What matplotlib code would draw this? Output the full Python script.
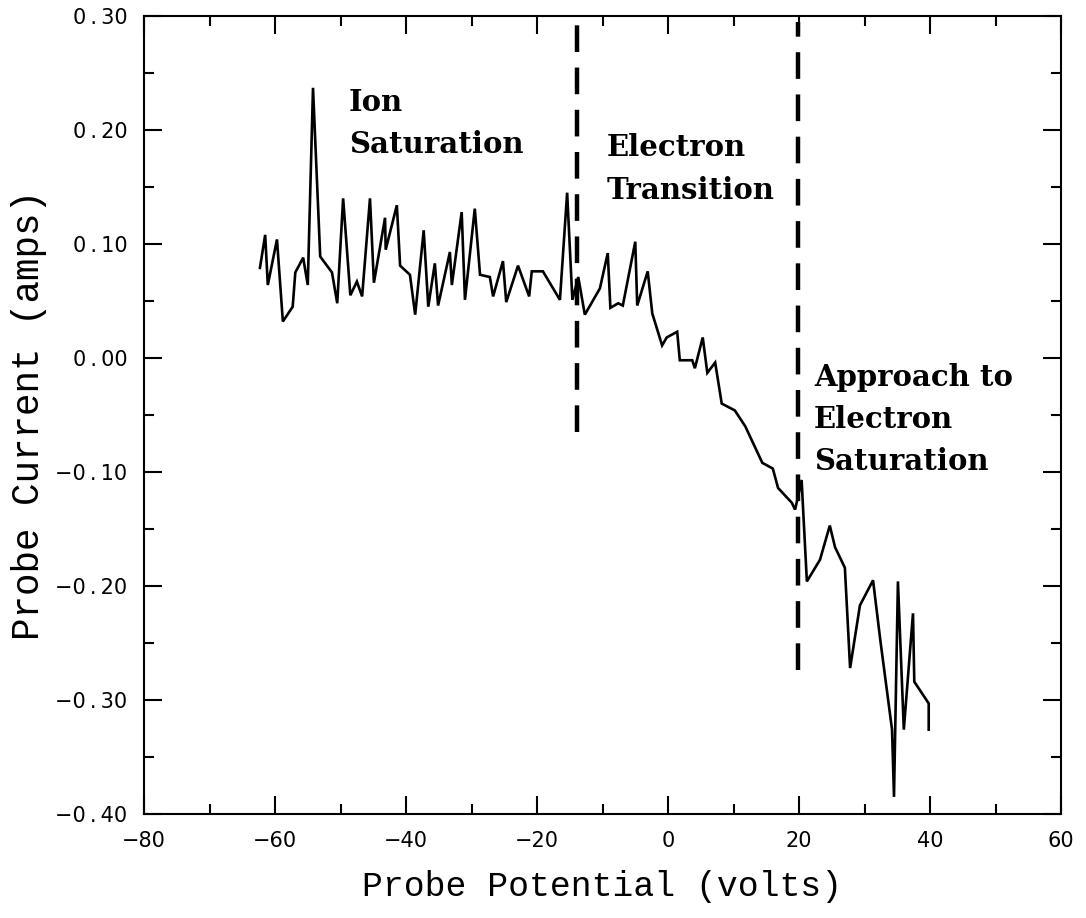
import matplotlib
matplotlib.use("Agg")
import matplotlib.pyplot as plt
from matplotlib.ticker import MultipleLocator, FuncFormatter

# Probe sweep data (volts, amps)
potential = [-62.3, -61.5, -61.1, -59.7, -58.8, -57.3, -56.9, -55.7, -55.0, -54.2,
             -53.1, -51.3, -50.5, -49.6, -48.5, -47.5, -46.7, -45.5, -44.9, -43.2,
             -43.1, -41.4, -40.9, -39.4, -38.6, -37.3, -36.6, -35.6, -35.1, -33.3,
             -33.0, -31.5, -31.0, -29.5, -28.7, -27.2, -26.7, -25.2, -24.7, -22.9,
             -21.2, -20.8, -19.1, -16.5, -15.4, -14.6, -13.7, -12.7, -10.4, -9.2,
             -8.8, -7.6, -6.9, -5.0, -4.7, -3.1, -2.4, -0.9, -0.2, 1.4,
             1.8, 3.7, 4.1, 5.3, 6.0, 7.2, 8.2, 10.2, 11.8, 14.4,
             16.0, 16.8, 18.9, 19.4, 19.8, 20.4, 20.6, 21.2, 23.2, 24.7,
             25.5, 27.0, 27.8, 29.3, 31.3, 32.4, 34.2, 34.5, 35.1, 36.0,
             37.4, 37.6, 39.8, 39.8]
current = [0.079, 0.108, 0.064, 0.104, 0.032, 0.045, 0.075, 0.088, 0.064, 0.237,
           0.089, 0.075, 0.048, 0.140, 0.055, 0.067, 0.054, 0.140, 0.066, 0.123,
           0.095, 0.134, 0.081, 0.073, 0.038, 0.112, 0.045, 0.083, 0.046, 0.093,
           0.064, 0.128, 0.051, 0.131, 0.073, 0.071, 0.054, 0.085, 0.049, 0.081,
           0.054, 0.076, 0.076, 0.051, 0.145, 0.051, 0.071, 0.038, 0.061, 0.092,
           0.044, 0.048, 0.046, 0.102, 0.046, 0.076, 0.039, 0.011, 0.018, 0.023,
           -0.002, -0.002, -0.009, 0.018, -0.013, -0.004, -0.040, -0.046, -0.060, -0.092,
           -0.097, -0.114, -0.127, -0.133, -0.123, -0.107, -0.130, -0.196, -0.177, -0.147,
           -0.166, -0.184, -0.272, -0.217, -0.195, -0.247, -0.326, -0.385, -0.196, -0.326,
           -0.224, -0.284, -0.303, -0.326]

region_bounds = [-13.9, 19.8]
region_tops = [0.292, 0.295]
region_bottoms = [-0.065, -0.274]

region_labels = ["Ion\nSaturation", "Electron\nTransition", "Approach to\nElectron\nSaturation"]
label_x = [-48.7, -9.3, 22.3]
label_y = [0.237, 0.197, -0.004]

fig = plt.figure(figsize=(10.86, 9.18), dpi=100)
ax = fig.add_axes([0.1326, 0.1133, 0.8444, 0.8693])

ax.plot(potential, current, color="black", lw=1.9, solid_joinstyle="miter")

for xb, yt, yb in zip(region_bounds, region_tops, region_bottoms):
    ax.plot([xb, xb], [yb, yt], color="black", lw=3.2, dashes=(6, 3.5))

for t, x, y in zip(region_labels, label_x, label_y):
    ax.text(x, y, t, family="DejaVu Serif", fontsize=21, fontweight="bold",
            va="top", ha="left", linespacing=1.58)

ax.set_xlim(-80, 60)
ax.set_ylim(-0.40, 0.30)
ax.xaxis.set_major_locator(MultipleLocator(20))
ax.xaxis.set_minor_locator(MultipleLocator(10))
ax.yaxis.set_major_locator(MultipleLocator(0.10))
ax.yaxis.set_minor_locator(MultipleLocator(0.05))


def yfmt(v, pos):
    s = f"{abs(v):.2f}".replace(".", "\u2009.\u2009")
    return ("\u2212" + s) if v < -1e-9 else s


def xfmt(v, pos):
    return ("\u2212" + f"{abs(v):.0f}") if v < -1e-9 else f"{v:.0f}"


ax.yaxis.set_major_formatter(FuncFormatter(yfmt))
ax.xaxis.set_major_formatter(FuncFormatter(xfmt))

ax.tick_params(which="both", direction="in", top=True, right=True, width=1.5,
               labelsize=15, pad=12)
ax.tick_params(which="major", length=13)
ax.tick_params(which="minor", length=7)
for lab in ax.get_xticklabels() + ax.get_yticklabels():
    lab.set_family("DejaVu Sans")
for s in ax.spines.values():
    s.set_linewidth(1.5)

ax.set_xlabel("Probe Potential (volts)", family="Liberation Mono", fontsize=25, labelpad=14)
ax.set_ylabel("Probe Current (amps)", family="Liberation Mono", fontsize=27, labelpad=6)

fig.savefig("out.png", dpi=100)
